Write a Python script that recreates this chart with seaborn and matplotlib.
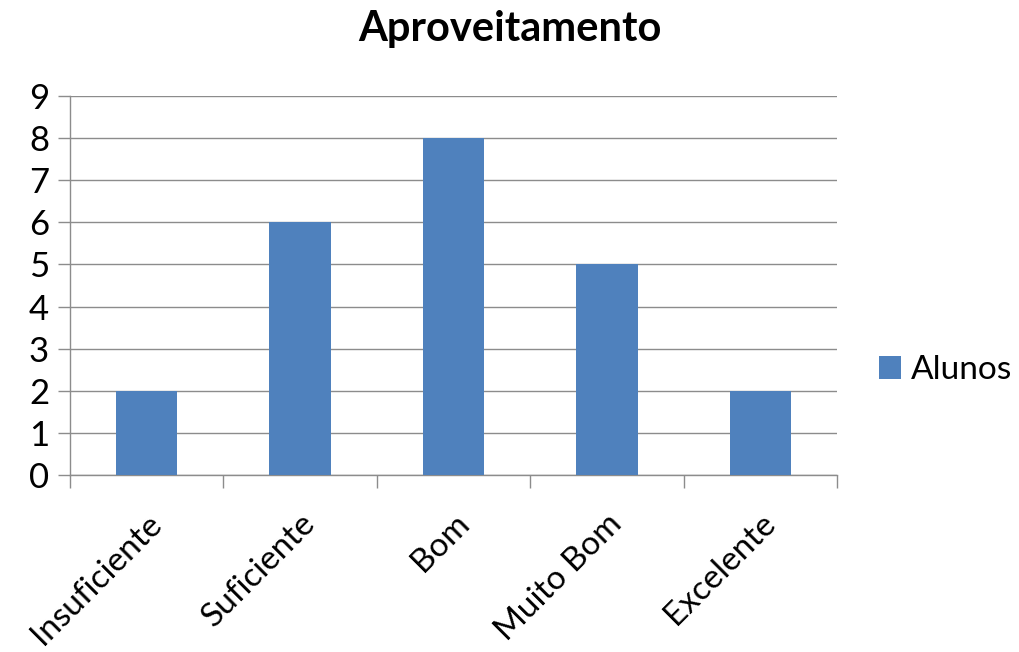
import matplotlib
matplotlib.use("Agg")
import matplotlib.pyplot as plt
import seaborn as sns
import pandas as pd
from matplotlib.patches import Patch

categories = ["Insuficiente", "Suficiente", "Bom", "Muito Bom", "Excelente"]
alunos = [2, 6, 8, 5, 2]
series_name = "Alunos"
y_ticks = list(range(0, 10))

sns.set_theme(style="white")
plt.rcParams["font.family"] = ["Lato", "DejaVu Sans"]
plt.rcParams["text.color"] = "black"
plt.rcParams["xtick.color"] = "black"
plt.rcParams["ytick.color"] = "black"

df = pd.DataFrame({"categoria": categories, series_name: alunos})

fig = plt.figure(figsize=(10.19, 6.52), dpi=100)
ax = fig.add_axes([0.0687, 0.2715, 0.7527, 0.5813])

bar_color = "#4F81BD"
grid_color = "#8C8C8C"

sns.barplot(data=df, x="categoria", y=series_name, color=bar_color,
            width=0.4, saturation=1, linewidth=0, ax=ax, zorder=3)

ax.set_xlim(-0.5, len(categories) - 0.5)
ax.set_ylim(0, 9)
ax.set_yticks(y_ticks)
ax.set_yticklabels([str(t) for t in y_ticks], fontsize=25)
ax.yaxis.grid(True, color=grid_color, linewidth=1.0, zorder=0)
ax.set_axisbelow(True)

# category boundaries carry the tick marks; labels sit at the centres
ax.set_xticks([i - 0.5 for i in range(len(categories) + 1)], minor=True)
ax.set_xticks(range(len(categories)))
ax.set_xticklabels(categories, fontsize=24, rotation=45, ha="right",
                   rotation_mode="anchor")
ax.tick_params(axis="x", which="major", length=0, pad=24)
ax.tick_params(axis="x", which="minor", length=9, width=1, color=grid_color,
               direction="out", bottom=True)
ax.tick_params(axis="y", length=9, width=1, color=grid_color, direction="out",
               left=True, pad=6, labelcolor="black")
ax.tick_params(axis="x", labelcolor="black")

for side in ["top", "right"]:
    ax.spines[side].set_visible(False)
for side in ["left", "bottom"]:
    ax.spines[side].set_color(grid_color)
    ax.spines[side].set_linewidth(1.0)

ax.set_xlabel("")
ax.set_ylabel("")

fig.suptitle("Aproveitamento", fontsize=30, fontweight="bold", y=0.985,
             color="black")

handle = Patch(facecolor=bar_color, edgecolor="none")
fig.legend([handle], [series_name], loc="center left",
           bbox_to_anchor=(0.856, 0.432), frameon=False, fontsize=24,
           handlelength=0.67, handleheight=0.67, handletextpad=0.3,
           borderpad=0.1, borderaxespad=0.1, labelcolor="black")

fig.savefig("out.png", dpi=100)
